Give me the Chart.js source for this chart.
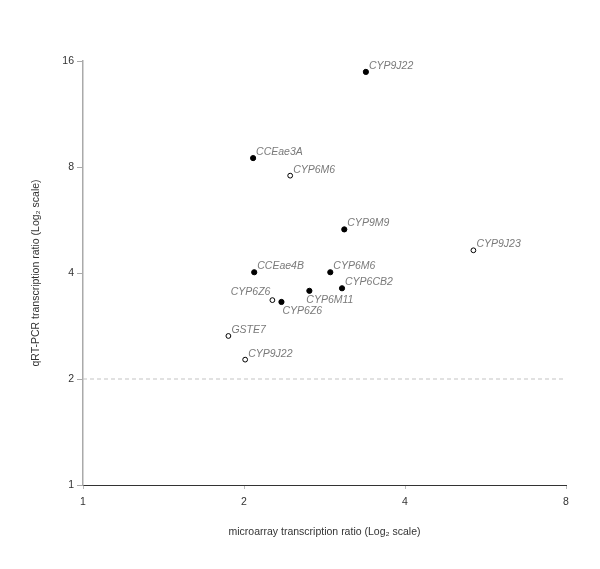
<!DOCTYPE html>
<html>
<head>
<meta charset="utf-8">
<script src="https://cdn.jsdelivr.net/npm/chart.js@4/dist/chart.umd.min.js"></script>
<style>
  html,body{margin:0;padding:0;background:#fff}
</style>
</head>
<body>
<canvas id="chart" width="600" height="569"></canvas>
<script>
// genes with filled marker
const filledGenes = ['CYP9J22','CCEae3A','CYP9M9','CCEae4B','CYP6M6','CYP6CB2','CYP6M11','CYP6Z6'];
const filledMicro = [3.38, 2.08, 3.08, 2.09, 2.90, 3.05, 2.65, 2.35];
const filledQpcr  = [14.9, 8.48, 5.32, 4.02, 4.02, 3.62, 3.56, 3.31];
// genes with open marker
const openGenes = ['CYP6M6','CYP9J23','CYP6Z6','GSTE7','CYP9J22'];
const openMicro = [2.44, 5.37, 2.26, 1.87, 2.01];
const openQpcr  = [7.56, 4.64, 3.35, 2.65, 2.27];

const xTicks = [1, 2, 4, 8];
const yTicks = [1, 2, 4, 8, 16];
const threshold = 2;

// where each label sits relative to its point
const filledSide = ['ne','ne','ne','ne','ne','ne','sw','s'];
const openSide   = ['ne','ne','nw','ne','ne'];

const pts = (xs, ys) => xs.map((x,i)=>({x:x, y:ys[i]}));
const FONT = '"Liberation Sans", Arial, sans-serif';

const labelPlugin = {
  id:'geneLabels',
  afterDatasetsDraw(chart){
    const ctx = chart.ctx;
    ctx.save();
    ctx.font = 'italic 10.5px ' + FONT;
    ctx.fillStyle = '#7a7a7a';
    ctx.textBaseline = 'middle';
    [[0, filledGenes, filledSide],[1, openGenes, openSide]].forEach(([di, names, sides])=>{
      chart.getDatasetMeta(di).data.forEach((el,i)=>{
        const s = sides[i];
        let x = el.x, y = el.y;
        if(s==='ne'){ctx.textAlign='left'; x+=3; y-=6;}
        else if(s==='nw'){ctx.textAlign='right'; x-=2; y-=8;}
        else if(s==='sw'){ctx.textAlign='left'; x-=3; y+=9;}
        else {ctx.textAlign='left'; x+=1; y+=9;}
        ctx.fillText(names[i], x, y);
      });
    });
    ctx.restore();
  }
};

new Chart(document.getElementById('chart'),{
  data:{datasets:[
    {type:'scatter',label:'filled',data:pts(filledMicro,filledQpcr),pointRadius:2.6,pointBackgroundColor:'#000',pointBorderColor:'#000',pointBorderWidth:1},
    {type:'scatter',label:'open',data:pts(openMicro,openQpcr),pointRadius:2.4,pointBackgroundColor:'#fff',pointBorderColor:'#000',pointBorderWidth:1},
    {type:'line',label:'threshold',data:[{x:xTicks[0],y:threshold},{x:xTicks[xTicks.length-1],y:threshold}],borderColor:'#c4c4c4',borderWidth:1.2,borderDash:[4,3],pointRadius:0,fill:false}
  ]},
  options:{
    responsive:false,animation:false,
    layout:{padding:{top:61,right:34,left:0,bottom:0}},
    plugins:{legend:{display:false},tooltip:{enabled:false}},
    scales:{
      x:{type:'logarithmic',min:1,max:8,
        afterBuildTicks:s=>{s.ticks = xTicks.map(v=>({value:v}));},
        afterFit:s=>{s.height = 84;},
        grid:{drawOnChartArea:false,drawTicks:true,tickLength:4,color:'#bbb'},
        border:{color:'#333',width:1},
        ticks:{color:'#333',font:{size:10.5,family:FONT},padding:7,maxRotation:0,callback:v=>String(v)},
        title:{display:true,text:'microarray transcription ratio (Log\u2082 scale)',color:'#333',font:{size:10.5,family:FONT},padding:{top:0,bottom:31}}
      },
      y:{type:'logarithmic',min:1,max:16,
        afterBuildTicks:s=>{s.ticks = yTicks.map(v=>({value:v}));},
        afterFit:s=>{s.width = 83;},
        grid:{drawOnChartArea:false,drawTicks:true,tickLength:6,color:'#aaa'},
        border:{color:'#aaa',width:1.5},
        ticks:{color:'#333',font:{size:10.5,family:FONT},padding:3,callback:v=>String(v)},
        title:{display:true,text:'qRT-PCR transcription ratio (Log\u2082 scale)',color:'#333',font:{size:10.5,family:FONT},padding:{top:30,bottom:0}}
      }
    }
  },
  plugins:[labelPlugin]
});
</script>
</body>
</html>
